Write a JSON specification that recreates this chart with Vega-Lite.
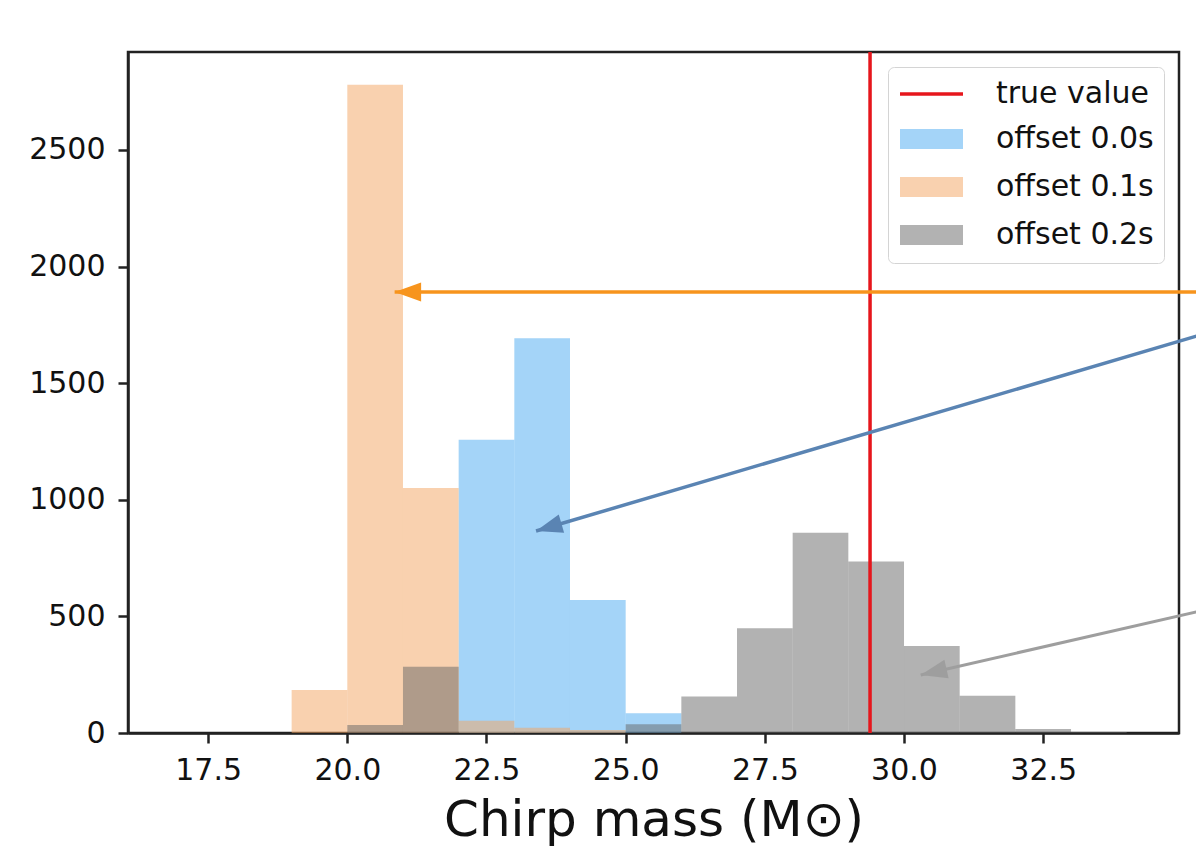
{
  "$schema": "https://vega.github.io/schema/vega-lite/v6.json",
  "autosize": {"type": "none"},
  "padding": {"left": 128, "top": 52, "right": 17, "bottom": 117},
  "width": 1051,
  "height": 681,
  "background": "white",
  "config": {
    "font": "DejaVu Sans",
    "view": {"stroke": "#222222", "strokeWidth": 2.5},
    "axis": {
      "labelFont": "DejaVu Sans",
      "titleFont": "DejaVu Sans",
      "labelColor": "#111111",
      "titleColor": "#111111",
      "domainColor": "#222222",
      "tickColor": "#222222",
      "domainWidth": 2.5,
      "tickWidth": 2.5,
      "tickSize": 10,
      "grid": false
    },
    "legend": {
      "orient": "top-right",
      "offset": 15,
      "padding": 10,
      "strokeColor": "#d4d4d4",
      "fillColor": "rgba(255,255,255,0.85)",
      "cornerRadius": 6,
      "labelFont": "DejaVu Sans",
      "labelFontSize": 30,
      "labelColor": "#111111",
      "labelOffset": 64,
      "rowPadding": 12,
      "symbolSize": 900,
      "symbolStrokeWidth": 3.5,
      "symbolOpacity": 1
    }
  },
  "datasets": {
    "hist": [
      {"series": "offset 0.0s", "bin_start": 22, "bin_end": 23, "count": 1257},
      {"series": "offset 0.0s", "bin_start": 23, "bin_end": 24, "count": 1693},
      {"series": "offset 0.0s", "bin_start": 24, "bin_end": 25, "count": 570},
      {"series": "offset 0.0s", "bin_start": 25, "bin_end": 26, "count": 85},
      {"series": "offset 0.1s", "bin_start": 19, "bin_end": 20, "count": 184},
      {"series": "offset 0.1s", "bin_start": 20, "bin_end": 21, "count": 2780},
      {"series": "offset 0.1s", "bin_start": 21, "bin_end": 22, "count": 1050},
      {"series": "offset 0.1s", "bin_start": 22, "bin_end": 23, "count": 53},
      {"series": "offset 0.1s", "bin_start": 23, "bin_end": 24, "count": 23},
      {"series": "offset 0.1s", "bin_start": 24, "bin_end": 25, "count": 13},
      {"series": "offset 0.2s", "bin_start": 20, "bin_end": 21, "count": 34},
      {"series": "offset 0.2s", "bin_start": 21, "bin_end": 22, "count": 284},
      {"series": "offset 0.2s", "bin_start": 25, "bin_end": 26, "count": 37},
      {"series": "offset 0.2s", "bin_start": 26, "bin_end": 27, "count": 156},
      {"series": "offset 0.2s", "bin_start": 27, "bin_end": 28, "count": 449},
      {"series": "offset 0.2s", "bin_start": 28, "bin_end": 29, "count": 859},
      {"series": "offset 0.2s", "bin_start": 29, "bin_end": 30, "count": 735},
      {"series": "offset 0.2s", "bin_start": 30, "bin_end": 31, "count": 373},
      {"series": "offset 0.2s", "bin_start": 31, "bin_end": 32, "count": 160},
      {"series": "offset 0.2s", "bin_start": 32, "bin_end": 33, "count": 17},
      {"series": "offset 0.2s", "bin_start": 33, "bin_end": 34, "count": 4}
    ],
    "truth": [{"series": "true value", "mass": 29.39}],
    "arrows": [
      {"arrow": "orange", "x_from": 35.3, "y_from": 1891, "x_to": 20.85, "y_to": 1891},
      {"arrow": "blue", "x_from": 35.3, "y_from": 1705, "x_to": 23.39, "y_to": 866},
      {"arrow": "gray", "x_from": 35.3, "y_from": 522, "x_to": 30.3, "y_to": 249}
    ]
  },
  "layer": [
    {
      "data": {"name": "hist"},
      "mark": {"type": "bar", "opacity": 0.5, "strokeWidth": 0, "orient": "vertical"},
      "encoding": {
        "x": {
          "field": "bin_start", "type": "quantitative",
          "scale": {"domain": [16.15, 34.85], "nice": false, "zero": false},
          "axis": {
            "values": [17.5, 20, 22.5, 25, 27.5, 30, 32.5],
            "format": ".1f",
            "labelFontSize": 30,
            "labelPadding": 12,
            "title": "Chirp mass (M⊙)",
            "titleFontSize": 50,
            "titleFontWeight": "normal",
            "titlePadding": 10
          }
        },
        "x2": {"field": "bin_end"},
        "y": {
          "field": "count", "type": "quantitative", "stack": null,
          "scale": {"domain": [0, 2920], "nice": false},
          "axis": {
            "values": [0, 500, 1000, 1500, 2000, 2500],
            "format": "d",
            "labelFontSize": 30,
            "labelPadding": 13,
            "title": null
          }
        },
        "y2": {"datum": 0},
        "color": {
          "field": "series", "type": "nominal",
          "scale": {
            "domain": ["offset 0.0s", "offset 0.1s", "offset 0.2s"],
            "range": ["#4aaaf2", "#f4a460", "#656565"]
          },
          "legend": null
        }
      }
    },
    {
      "data": {"name": "truth"},
      "mark": {"type": "rule", "color": "#e6161c", "strokeWidth": 3.5},
      "encoding": {
        "x": {"field": "mass", "type": "quantitative"}
      }
    },
    {
      "data": {"name": "truth"},
      "mark": {"type": "point", "opacity": 0, "filled": true},
      "encoding": {
        "x": {"field": "mass", "type": "quantitative"},
        "y": {"datum": 0, "type": "quantitative"},
        "fill": {
          "field": "series", "type": "nominal",
          "scale": {
            "domain": ["true value", "offset 0.0s", "offset 0.1s", "offset 0.2s"],
            "range": ["transparent", "#a4d4f8", "#f9d1af", "#b2b2b2"]
          },
          "legend": {"title": null}
        },
        "stroke": {
          "field": "series", "type": "nominal",
          "scale": {
            "domain": ["true value", "offset 0.0s", "offset 0.1s", "offset 0.2s"],
            "range": ["#e6161c", "transparent", "transparent", "transparent"]
          },
          "legend": {"title": null}
        },
        "shape": {
          "field": "series", "type": "nominal",
          "scale": {
            "domain": ["true value", "offset 0.0s", "offset 0.1s", "offset 0.2s"],
            "range": ["M-1,0H3.2", "M-1,-0.67H3.2V0.67H-1Z", "M-1,-0.67H3.2V0.67H-1Z", "M-1,-0.67H3.2V0.67H-1Z"]
          },
          "legend": {"title": null}
        }
      }
    },
    {
      "data": {"name": "arrows"},
      "transform": [{"filter": "datum.arrow === 'orange'"}],
      "mark": {"type": "rule", "color": "#f7941d", "strokeWidth": 3.5, "clip": false},
      "encoding": {
        "x": {"field": "x_from", "type": "quantitative"},
        "y": {"field": "y_from", "type": "quantitative"},
        "x2": {"field": "x_to"},
        "y2": {"field": "y_to"}
      }
    },
    {
      "data": {"name": "arrows"},
      "transform": [{"filter": "datum.arrow === 'blue'"}],
      "mark": {"type": "rule", "color": "#5a84b3", "strokeWidth": 3.5, "clip": false},
      "encoding": {
        "x": {"field": "x_from", "type": "quantitative"},
        "y": {"field": "y_from", "type": "quantitative"},
        "x2": {"field": "x_to"},
        "y2": {"field": "y_to"}
      }
    },
    {
      "data": {"name": "arrows"},
      "transform": [{"filter": "datum.arrow === 'gray'"}],
      "mark": {"type": "rule", "color": "#9e9e9e", "strokeWidth": 3, "clip": false},
      "encoding": {
        "x": {"field": "x_from", "type": "quantitative"},
        "y": {"field": "y_from", "type": "quantitative"},
        "x2": {"field": "x_to"},
        "y2": {"field": "y_to"}
      }
    },
    {
      "data": {"name": "arrows"},
      "transform": [{"filter": "datum.arrow === 'orange'"}],
      "mark": {"type": "point", "shape": "M0,0L2,-0.72L2,0.72Z", "size": 700, "filled": true, "opacity": 1, "color": "#f7941d", "angle": 0, "clip": false},
      "encoding": {
        "x": {"field": "x_to", "type": "quantitative"},
        "y": {"field": "y_to", "type": "quantitative"}
      }
    },
    {
      "data": {"name": "arrows"},
      "transform": [{"filter": "datum.arrow === 'blue'"}],
      "mark": {"type": "point", "shape": "M0,0L2,-0.72L2,0.72Z", "size": 700, "filled": true, "opacity": 1, "color": "#5a84b3", "angle": 343.7, "clip": false},
      "encoding": {
        "x": {"field": "x_to", "type": "quantitative"},
        "y": {"field": "y_to", "type": "quantitative"}
      }
    },
    {
      "data": {"name": "arrows"},
      "transform": [{"filter": "datum.arrow === 'gray'"}],
      "mark": {"type": "point", "shape": "M0,0L2,-0.72L2,0.72Z", "size": 700, "filled": true, "opacity": 1, "color": "#9e9e9e", "angle": 347.2, "clip": false},
      "encoding": {
        "x": {"field": "x_to", "type": "quantitative"},
        "y": {"field": "y_to", "type": "quantitative"}
      }
    }
  ]
}
